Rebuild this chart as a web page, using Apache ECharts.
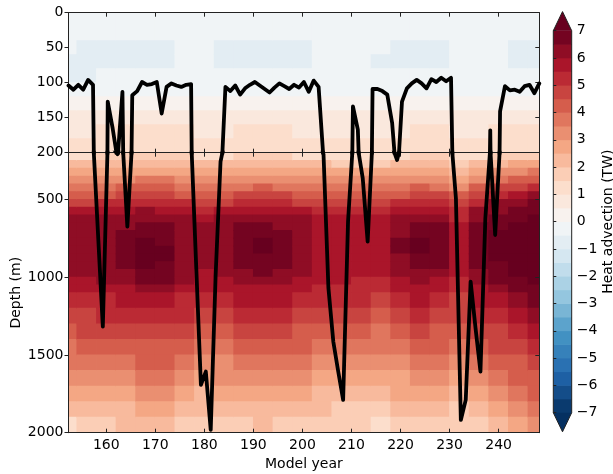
<!DOCTYPE html>
<html><head><meta charset="utf-8">
<script src="https://cdn.jsdelivr.net/npm/echarts@6/dist/echarts.min.js"></script>
<style>html,body{margin:0;padding:0;background:#fff}#c{width:613px;height:474px}</style>
</head><body><div id="c"></div>
<script>
// ---- data ----
const fieldYearEdges = [150,154,158,162,166,170,174,178,182,186,190,194,198,202,206,210,214,218,222,226,230,234,238,242,246,250];
const depthEdgesTop = [0,20,40,60,80,100,120,140,160,180,200];
const depthEdgesBottom = [200,250,300,350,400,450,500,550,600,650,700,750,800,850,900,950,1000,1050,1100,1200,1300,1400,1500,1600,1700,1800,1900,2000];

// heat advection (TW), one array per year column (cell centres 152,156,...,248), top panel rows 0-200 m
const advTop = [
[-0.25,-0.3,-0.5,-0.6,-0.55,-0.1,0.3,0.6,0.95,1.3],
[-0.25,-0.3,-0.55,-0.6,-0.55,-0.1,0.3,0.6,0.95,1.3],
[-0.25,-0.3,-0.55,-0.6,-0.5,-0.1,0.3,0.65,1.0,1.3],
[-0.25,-0.35,-0.6,-0.6,-0.5,-0.05,0.35,0.7,1.05,1.35],
[-0.25,-0.35,-0.6,-0.6,-0.5,-0.05,0.4,0.75,1.05,1.4],
[-0.25,-0.35,-0.6,-0.6,-0.45,-0.05,0.4,0.75,1.05,1.4],
[-0.2,-0.3,-0.45,-0.45,-0.35,-0.05,0.35,0.65,1.0,1.3],
[-0.2,-0.25,-0.4,-0.4,-0.3,-0.1,0.3,0.6,0.95,1.25],
[-0.25,-0.35,-0.6,-0.6,-0.45,-0.1,0.3,0.6,0.95,1.3],
[-0.25,-0.35,-0.6,-0.6,-0.45,-0.1,0.3,0.65,1.0,1.35],
[-0.25,-0.35,-0.6,-0.6,-0.45,-0.1,0.35,0.7,1.05,1.4],
[-0.25,-0.35,-0.6,-0.6,-0.45,-0.1,0.3,0.65,1.0,1.35],
[-0.25,-0.35,-0.55,-0.55,-0.4,-0.1,0.3,0.6,0.95,1.3],
[-0.2,-0.25,-0.4,-0.4,-0.3,-0.1,0.25,0.55,0.9,1.25],
[-0.2,-0.25,-0.4,-0.4,-0.3,-0.1,0.25,0.55,0.9,1.2],
[-0.2,-0.25,-0.4,-0.4,-0.3,-0.1,0.25,0.55,0.9,1.2],
[-0.2,-0.3,-0.5,-0.55,-0.4,-0.1,0.3,0.6,0.9,1.25],
[-0.25,-0.3,-0.55,-0.6,-0.4,-0.05,0.35,0.65,0.95,1.3],
[-0.25,-0.3,-0.55,-0.6,-0.4,-0.05,0.35,0.7,1.0,1.35],
[-0.25,-0.3,-0.55,-0.55,-0.4,-0.05,0.3,0.65,1.0,1.3],
[-0.2,-0.25,-0.4,-0.4,-0.3,-0.1,0.25,0.55,0.9,1.2],
[-0.2,-0.25,-0.4,-0.4,-0.3,-0.1,0.25,0.6,0.95,1.3],
[-0.2,-0.3,-0.45,-0.5,-0.4,-0.1,0.3,0.65,1.0,1.35],
[-0.25,-0.3,-0.6,-0.6,-0.5,-0.1,0.3,0.7,1.05,1.4],
[-0.25,-0.3,-0.6,-0.6,-0.5,-0.1,0.3,0.7,1.05,1.4]
];
// bottom panel rows 200-2000 m
const advBottom = [
[1.4,2.0,2.6,3.2,3.7,4.3,4.9,5.5,6.0,6.2,6.35,6.45,6.45,6.4,6.25,6.1,5.9,5.65,5.25,4.8,4.35,3.9,3.5,3.0,2.6,2.1,1.45],
[1.4,2.1,2.6,3.2,3.8,4.3,4.9,5.5,6.0,6.2,6.4,6.45,6.45,6.4,6.3,6.15,5.95,5.7,5.4,4.9,4.5,4.0,3.6,3.1,2.7,2.2,1.6],
[1.5,2.1,2.7,3.3,3.9,4.4,5.0,5.6,6.1,6.3,6.4,6.45,6.45,6.4,6.3,6.2,6.0,5.8,5.45,5.0,4.55,4.1,3.65,3.2,2.75,2.3,1.8],
[1.6,2.2,2.8,3.4,4.0,4.6,5.2,5.8,6.2,6.45,6.6,6.7,6.7,6.6,6.5,6.35,6.15,5.95,5.6,5.15,4.7,4.25,3.8,3.35,2.9,2.45,2.0],
[1.7,2.3,2.9,3.5,4.2,4.8,5.4,6.0,6.35,6.6,6.85,7.0,7.1,7.1,7.0,6.8,6.6,6.3,5.8,5.3,4.9,4.4,4.0,3.5,3.1,2.6,2.2],
[1.65,2.3,2.9,3.5,4.1,4.75,5.35,5.95,6.3,6.6,6.8,6.95,7.05,7.05,6.95,6.8,6.55,6.3,5.8,5.35,4.9,4.45,4.0,3.55,3.1,2.65,2.2],
[1.5,2.15,2.7,3.3,3.85,4.45,5.0,5.6,6.05,6.2,6.35,6.4,6.4,6.35,6.25,6.15,6.0,5.8,5.45,5.0,4.55,4.05,3.55,3.1,2.6,2.15,1.7],
[1.35,2.0,2.55,3.15,3.7,4.25,4.8,5.35,5.95,6.1,6.2,6.3,6.3,6.25,6.1,5.95,5.7,5.5,5.15,4.7,4.25,3.8,3.35,2.9,2.45,2.0,1.5],
[1.4,2.05,2.6,3.2,3.75,4.35,4.9,5.5,6.05,6.2,6.35,6.4,6.4,6.3,6.2,6.05,5.8,5.6,5.25,4.8,4.35,3.9,3.45,3.0,2.55,2.1,1.65],
[1.55,2.2,2.8,3.35,3.95,4.55,5.15,5.75,6.2,6.5,6.7,6.85,6.9,6.85,6.7,6.45,6.05,5.85,5.5,5.05,4.6,4.15,3.7,3.25,2.8,2.35,1.9],
[1.6,2.25,2.85,3.45,4.05,4.65,5.25,5.9,6.35,6.65,6.9,7.05,7.05,6.95,6.7,6.5,6.2,5.95,5.6,5.15,4.7,4.25,3.8,3.35,2.9,2.45,2.0],
[1.55,2.2,2.8,3.35,3.95,4.55,5.15,5.75,6.2,6.45,6.65,6.8,6.8,6.7,6.55,6.35,6.1,5.85,5.5,5.05,4.6,4.15,3.7,3.25,2.8,2.35,1.9],
[1.45,2.1,2.65,3.25,3.8,4.4,4.95,5.55,6.05,6.15,6.25,6.3,6.3,6.25,6.15,6.05,5.9,5.7,5.35,4.9,4.45,4.0,3.55,3.1,2.65,2.2,1.75],
[1.35,2.0,2.55,3.1,3.65,4.2,4.75,5.3,5.65,5.8,5.9,5.95,5.95,5.9,5.85,5.75,5.6,5.45,5.15,4.7,4.25,3.8,3.35,2.9,2.45,2.0,1.6],
[1.3,1.95,2.5,3.05,3.6,4.15,4.65,5.15,5.5,5.7,5.8,5.85,5.85,5.8,5.75,5.65,5.5,5.35,5.05,4.65,4.2,3.75,3.3,2.85,2.4,1.95,1.55],
[1.3,1.95,2.5,3.05,3.6,4.15,4.7,5.2,5.55,5.7,5.8,5.85,5.85,5.8,5.7,5.6,5.45,5.3,5.0,4.55,4.1,3.65,3.2,2.75,2.3,1.9,1.5],
[1.3,1.95,2.55,3.1,3.65,4.2,4.75,5.25,5.6,5.8,5.9,5.95,5.9,5.85,5.7,5.5,5.3,5.1,4.8,4.35,3.9,3.5,3.05,2.6,2.2,1.8,1.4],
[1.45,2.1,2.65,3.25,3.8,4.4,5.0,5.6,6.1,6.3,6.45,6.5,6.5,6.4,6.25,6.0,5.75,5.55,5.2,4.75,4.3,3.85,3.4,2.95,2.5,2.05,1.6],
[1.55,2.2,2.8,3.45,4.05,4.65,5.25,5.85,6.3,6.6,6.85,7.0,7.05,6.95,6.65,6.35,6.1,5.85,5.5,5.05,4.6,4.15,3.7,3.25,2.8,2.35,1.9],
[1.5,2.15,2.75,3.35,3.95,4.55,5.15,5.75,6.2,6.5,6.7,6.8,6.8,6.7,6.5,6.25,5.9,5.7,5.35,4.9,4.45,4.0,3.55,3.1,2.65,2.2,1.75],
[1.2,1.8,2.35,2.9,3.45,4.0,4.55,5.05,5.45,5.7,5.8,5.85,5.85,5.8,5.7,5.55,5.4,5.2,4.9,4.5,4.05,3.6,3.15,2.7,2.3,1.9,1.5],
[1.4,2.05,2.75,3.4,4.05,4.75,5.4,6.05,6.35,6.55,6.65,6.7,6.7,6.65,6.55,6.4,6.1,5.9,5.55,5.1,4.65,4.2,3.75,3.3,2.85,2.4,1.95],
[1.65,2.35,3.1,3.85,4.6,5.35,6.05,6.4,6.65,6.85,7.0,7.05,7.05,7.0,6.9,6.75,6.5,6.25,5.85,5.4,4.95,4.5,4.05,3.6,3.15,2.7,2.25],
[1.8,2.55,3.35,4.15,4.95,5.75,6.35,6.7,6.9,7.05,7.15,7.2,7.2,7.2,7.1,7.0,6.85,6.65,6.3,5.8,5.35,4.9,4.45,4.0,3.55,3.1,2.65],
[1.85,2.7,3.55,4.35,5.2,6.1,6.6,6.9,7.1,7.2,7.3,7.3,7.3,7.3,7.2,7.1,7.0,6.85,6.6,6.2,5.8,5.35,4.9,4.45,4.0,3.5,3.0]
];

// mixed-layer depth line (m)
const mldYears = [152.3,153.3,154.3,155.3,156.3,157.3,158.3,159.3,160.3,161.3,162.3,163.3,164.3,165.3,166.3,167.3,168.3,169.3,170.3,171.3,172.3,173.3,174.3,175.3,176.3,177.3,178.3,179.3,180.3,181.3,182.3,183.3,184.3,185.3,186.3,187.3,188.3,189.3,190.3,191.3,192.3,193.3,194.3,195.3,196.3,197.3,198.3,199.3,200.3,201.3,202.3,203.3,204.3,205.3,206.3,207.3,208.3,209.3,210.3,211.3,212.3,213.3,214.3,215.3,216.3,217.3,218.3,219.3,220.3,221.3,222.3,223.3,224.3,225.3,226.3,227.3,228.3,229.3,230.3,231.3,232.3,233.3,234.3,235.3,236.3,237.3,238.3,239.3,240.3,241.3,242.3,243.3,244.3,245.3,246.3,247.3,248.3];
const mldDepth = [104,110,103,110,96,103,710,1318,127,165,210,113,675,118,112,99,103,102,99,144,106,101,104,106,103,102,900,1693,1607,1982,988,258,106,112,104,117,108,103,99,104,109,114,107,101,105,109,103,107,99,113,97,106,210,1070,1415,1607,1789,643,134,167,365,772,109,109,112,117,158,247,127,108,101,96,101,108,95,99,93,98,93,493,1918,1789,1029,1329,1607,622,168,729,141,105,111,110,113,105,103,115,101];

const levels = [-7,-6.5,-6,-5.5,-5,-4.5,-4,-3.5,-3,-2.5,-2,-1.5,-1,-0.5,0,0.5,1,1.5,2,2.5,3,3.5,4,4.5,5,5.5,6,6.5,7];
const yearTicks = [160,170,180,190,200,210,220,230,240];
const topDepthTicks = [0,50,100,150,200];
const bottomDepthTicks = [500,1000,1500,2000];
const rdbuR = ['#053061','#2166ac','#4393c3','#92c5de','#d1e5f0','#f7f7f7','#fddbc7','#f4a582','#d6604d','#b2182b','#67001f'];

// ---- colour scale ----
const anchors = rdbuR.map(h => [parseInt(h.slice(1,3),16), parseInt(h.slice(3,5),16), parseInt(h.slice(5,7),16)]);
function cmap(t){
  t = Math.max(0, Math.min(1, t));
  const s = t * (anchors.length - 1);
  const i = Math.min(Math.floor(s), anchors.length - 2);
  const f = s - i, a = anchors[i], b = anchors[i+1];
  return 'rgb(' + [0,1,2].map(k => Math.round(a[k] + (b[k]-a[k])*f)).join(',') + ')';
}
const nb = levels.length - 1;
const bandColors = levels.slice(0, -1).map((lo, k) => cmap((k + 0.5) / nb));
const underColor = cmap(0), overColor = cmap(1);
function colorFor(v){
  if (v < levels[0]) return underColor;
  if (v >= levels[nb]) return overColor;
  let k = 0;
  while (k < nb - 1 && v >= levels[k+1]) k++;
  return bandColors[k];
}

function cells(field, dEdges){
  const out = [];
  field.forEach((col, i) => col.forEach((v, j) => {
    out.push([fieldYearEdges[i], fieldYearEdges[i+1], dEdges[j], dEdges[j+1], v]);
  }));
  return out;
}
function renderCell(params, api){
  const p0 = api.coord([api.value(0), api.value(2)]);
  const p1 = api.coord([api.value(1), api.value(3)]);
  const x = Math.min(p0[0], p1[0]), y = Math.min(p0[1], p1[1]);
  return {type:'rect', shape:{x:x-0.4, y:y-0.4, width:Math.abs(p1[0]-p0[0])+0.8, height:Math.abs(p1[1]-p0[1])+0.8},
          style:{fill: colorFor(api.value(4))}};
}

const FONT = 'DejaVu Sans';
const TXT = {color:'#000', fontFamily: FONT, fontSize: 14};
const AXC = '#222';
const xMin = mldYears[0], xMax = mldYears[mldYears.length-1];
const plain = v => String(v);

function xAx(grid, pos, labels, extra){
  return Object.assign({
    type:'value', gridIndex:grid, position:pos, min:xMin, max:xMax, z:5,
    axisLine:{show:true, onZero:false, lineStyle:{color:AXC, width:1}},
    axisTick:{show:true, inside:true, length:4, customValues:yearTicks, lineStyle:{color:AXC}},
    axisLabel:{show:labels, customValues:yearTicks, margin:6, formatter:plain, ...TXT},
    splitLine:{show:false}
  }, extra || {});
}
function yAx(grid, pos, min, max, ticks, labels, inside, extra){
  return Object.assign({
    type:'value', gridIndex:grid, position:pos, min:min, max:max, inverse:true, z:5,
    axisLine:{show:true, onZero:false, lineStyle:{color:AXC, width:1}},
    axisTick:{show:true, inside:inside, length:4, customValues:ticks, lineStyle:{color:AXC}},
    axisLabel:{show:labels, customValues:ticks, margin:5, formatter:plain, ...TXT},
    splitLine:{show:false}
  }, extra || {});
}

const mldData = mldYears.map((y, i) => [y, mldDepth[i]]);
const lineCommon = {type:'line', data:mldData, showSymbol:false, symbol:'none', clip:true, silent:true, z:10,
  lineStyle:{color:'#000', width:3.8, join:'round', cap:'round'}};

const extFrac = 0.05;
const bandData = levels.slice(0, -1).map((lo, k) => [lo, levels[k+1]]);

const chart = echarts.init(document.getElementById('c'), null, {renderer:'canvas'});
chart.setOption({
  animation:false,
  backgroundColor:'#fff',
  grid:[
    {left:68.5, top:12.7, width:470.8, height:140, outerBoundsMode:'none', containLabel:false},
    {left:68.5, top:152.7, width:470.8, height:280, outerBoundsMode:'none', containLabel:false},
    {left:553.3, top:30.7, width:18.4, height:382, outerBoundsMode:'none', containLabel:false}
  ],
  xAxis:[
    xAx(0,'top',false),
    xAx(0,'bottom',false),
    xAx(1,'top',false),
    xAx(1,'bottom',true,{name:'Model year', nameLocation:'middle', nameGap:25, nameMoveOverlap:false, nameTextStyle:TXT}),
    {type:'value', gridIndex:2, min:0, max:1, show:false}
  ],
  yAxis:[
    yAx(0,'left',0,200,topDepthTicks,true,false),
    yAx(0,'right',0,200,topDepthTicks,false,true),
    yAx(1,'left',200,2000,bottomDepthTicks,true,false,{name:'Depth (m)', nameLocation:'middle', nameRotate:90, nameGap:45, nameMoveOverlap:false, nameTextStyle:TXT}),
    yAx(1,'right',200,2000,bottomDepthTicks,false,true),
    {type:'value', gridIndex:2, position:'right', min:levels[0], max:levels[nb], interval:1, z:5,
     axisLine:{show:false}, splitLine:{show:false},
     axisTick:{show:true, inside:false, length:3, lineStyle:{color:AXC}},
     axisLabel:{show:true, margin:5, ...TXT, formatter: v => v < 0 ? '\u2212' + (-v) : String(v)},
     name:'Heat advection (TW)', nameLocation:'middle', nameRotate:90, nameGap:30, nameTextStyle:TXT}
  ],
  series:[
    {type:'custom', xAxisIndex:0, yAxisIndex:0, clip:true, silent:true, z:1, renderItem:renderCell, data:cells(advTop, depthEdgesTop)},
    {type:'custom', xAxisIndex:3, yAxisIndex:2, clip:true, silent:true, z:1, renderItem:renderCell, data:cells(advBottom, depthEdgesBottom)},
    Object.assign({xAxisIndex:0, yAxisIndex:0}, lineCommon),
    Object.assign({xAxisIndex:3, yAxisIndex:2}, lineCommon),
    {type:'custom', xAxisIndex:4, yAxisIndex:4, silent:true, z:2, data:bandData,
     renderItem:(p, api) => {
       const a = api.coord([0, api.value(0)]), b = api.coord([1, api.value(1)]);
       return {type:'rect', shape:{x:a[0], y:Math.min(a[1],b[1])-0.3, width:b[0]-a[0], height:Math.abs(b[1]-a[1])+0.6},
               style:{fill: bandColors[p.dataIndex]}};
     }},
    {type:'custom', xAxisIndex:4, yAxisIndex:4, silent:true, z:3, data:[[0]],
     renderItem:(p, api) => {
       const span = levels[nb] - levels[0], ext = span * extFrac;
       const tl = api.coord([0, levels[nb]]), tr = api.coord([1, levels[nb]]);
       const bl = api.coord([0, levels[0]]), br = api.coord([1, levels[0]]);
       const tApex = api.coord([0.5, levels[nb] + ext]), bApex = api.coord([0.5, levels[0] - ext]);
       return {type:'group', children:[
         {type:'polygon', shape:{points:[tl, tr, tApex]}, style:{fill:overColor}},
         {type:'polygon', shape:{points:[bl, br, bApex]}, style:{fill:underColor}},
         {type:'polygon', shape:{points:[tApex, tr, br, bApex, bl, tl]}, style:{fill:null, stroke:'#222', lineWidth:1}}
       ]};
     }}
  ]
});
</script></body></html>
